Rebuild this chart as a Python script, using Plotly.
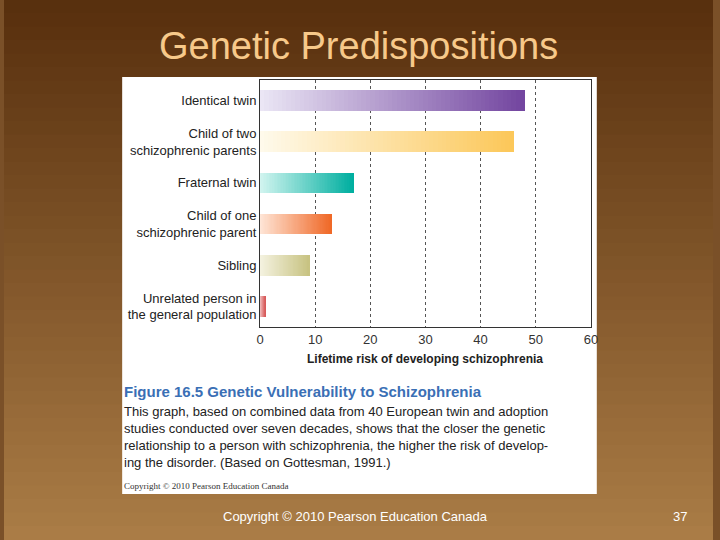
import plotly.graph_objects as go

categories = ["Identical twin", "Child of two<br>schizophrenic parents", "Fraternal twin",
              "Child of one<br>schizophrenic parent", "Sibling",
              "Unrelated person in<br>the general population"]
values = [48, 46, 17, 13, 9, 1]
tick_vals = [0, 10, 20, 30, 40, 50, 60]

start_cols = [(235, 230, 245), (255, 250, 235), (210, 245, 240), (255, 230, 215), (245, 243, 225), (245, 200, 200)]
end_cols = [(115, 70, 160), (252, 200, 90), (0, 175, 160), (240, 105, 40), (200, 195, 130), (215, 90, 90)]

N = 60
fig = go.Figure()
for s in range(N):
    t = s / (N - 1)
    cols = ["rgb(%d,%d,%d)" % tuple(int(a + (b - a) * t) for a, b in zip(sc, ec)) for sc, ec in zip(start_cols, end_cols)]
    fig.add_trace(go.Bar(y=categories, x=[v / N for v in values], orientation="h",
                         marker=dict(color=cols, line=dict(width=0)), width=0.5,
                         showlegend=False, hoverinfo="skip"))

shapes = []
NB = 40
for i in range(NB):
    t = i / (NB - 1)
    c = tuple(int(a + (b - a) * t) for a, b in zip((88, 48, 14), (170, 124, 70)))
    shapes.append(dict(type="rect", xref="paper", yref="paper", x0=0, x1=1,
                       y0=1 - (i + 1) / NB, y1=1 - i / NB + 0.001, line=dict(width=0),
                       fillcolor="rgb(%d,%d,%d)" % c, layer="below"))
shapes.append(dict(type="rect", xref="paper", yref="paper", x0=120/720, x1=602/720,
                   y0=1-494/540, y1=1-77/540, line=dict(width=0), fillcolor="white", layer="below"))

ann = [
    dict(text="Genetic Predispositions", x=360/720, y=1-46/540, font=dict(size=38, color="#f7c98a", family="Liberation Sans")),
    dict(text="<b>Lifetime risk of developing schizophrenia</b>", x=428/720, y=1-359/540, font=dict(size=12, color="#222", family="Liberation Sans")),
    dict(text="<b>Figure 16.5 Genetic Vulnerability to Schizophrenia</b>", x=120/720, y=1-391/540, xanchor="left", font=dict(size=15, color="#3a6fb5", family="Liberation Sans")),
    dict(text="This graph, based on combined data from 40 European twin and adoption<br>studies conducted over seven decades, shows that the closer the genetic<br>relationship to a person with schizophrenia, the higher the risk of develop-<br>ing the disorder. (Based on Gottesman, 1991.)",
         x=120/720, y=1-437/540, xanchor="left", align="left", font=dict(size=13, color="#222", family="Liberation Sans")),
    dict(text="Copyright © 2010 Pearson Education Canada", x=120/720, y=1-486/540, xanchor="left", font=dict(size=9, color="#333", family="Liberation Serif")),
    dict(text="Copyright © 2010 Pearson Education Canada", x=357/720, y=1-516/540, font=dict(size=13, color="white", family="Liberation Sans")),
    dict(text="37", x=686/720, y=1-516/540, font=dict(size=13, color="white", family="Liberation Sans")),
]
for a in ann:
    a.update(xref="paper", yref="paper", showarrow=False, yanchor="middle")
    a.setdefault("xanchor", "center")

fig.update_layout(
    width=720, height=540, margin=dict(l=0, r=0, t=0, b=0), barmode="stack",
    paper_bgcolor="#7a5028", plot_bgcolor="white", shapes=shapes, annotations=ann,
    xaxis=dict(domain=[260/720, 596/720], range=[0, 60], tickvals=tick_vals,
               showgrid=True, gridcolor="#555", griddash="dot", gridwidth=1,
               showline=True, linecolor="#333", mirror=True, zeroline=False,
               tickfont=dict(size=13, color="#333", family="Liberation Sans")),
    yaxis=dict(domain=[1-327/540, 1-80/540], autorange="reversed",
               showline=True, linecolor="#333", mirror=True, ticks="", ticklen=4,
               tickfont=dict(size=13, color="#222", family="Liberation Sans")),
)
fig.write_html("out.html", config={"displayModeBar": False},
               post_script="document.body.style.margin='0';document.body.style.overflow='hidden';")
